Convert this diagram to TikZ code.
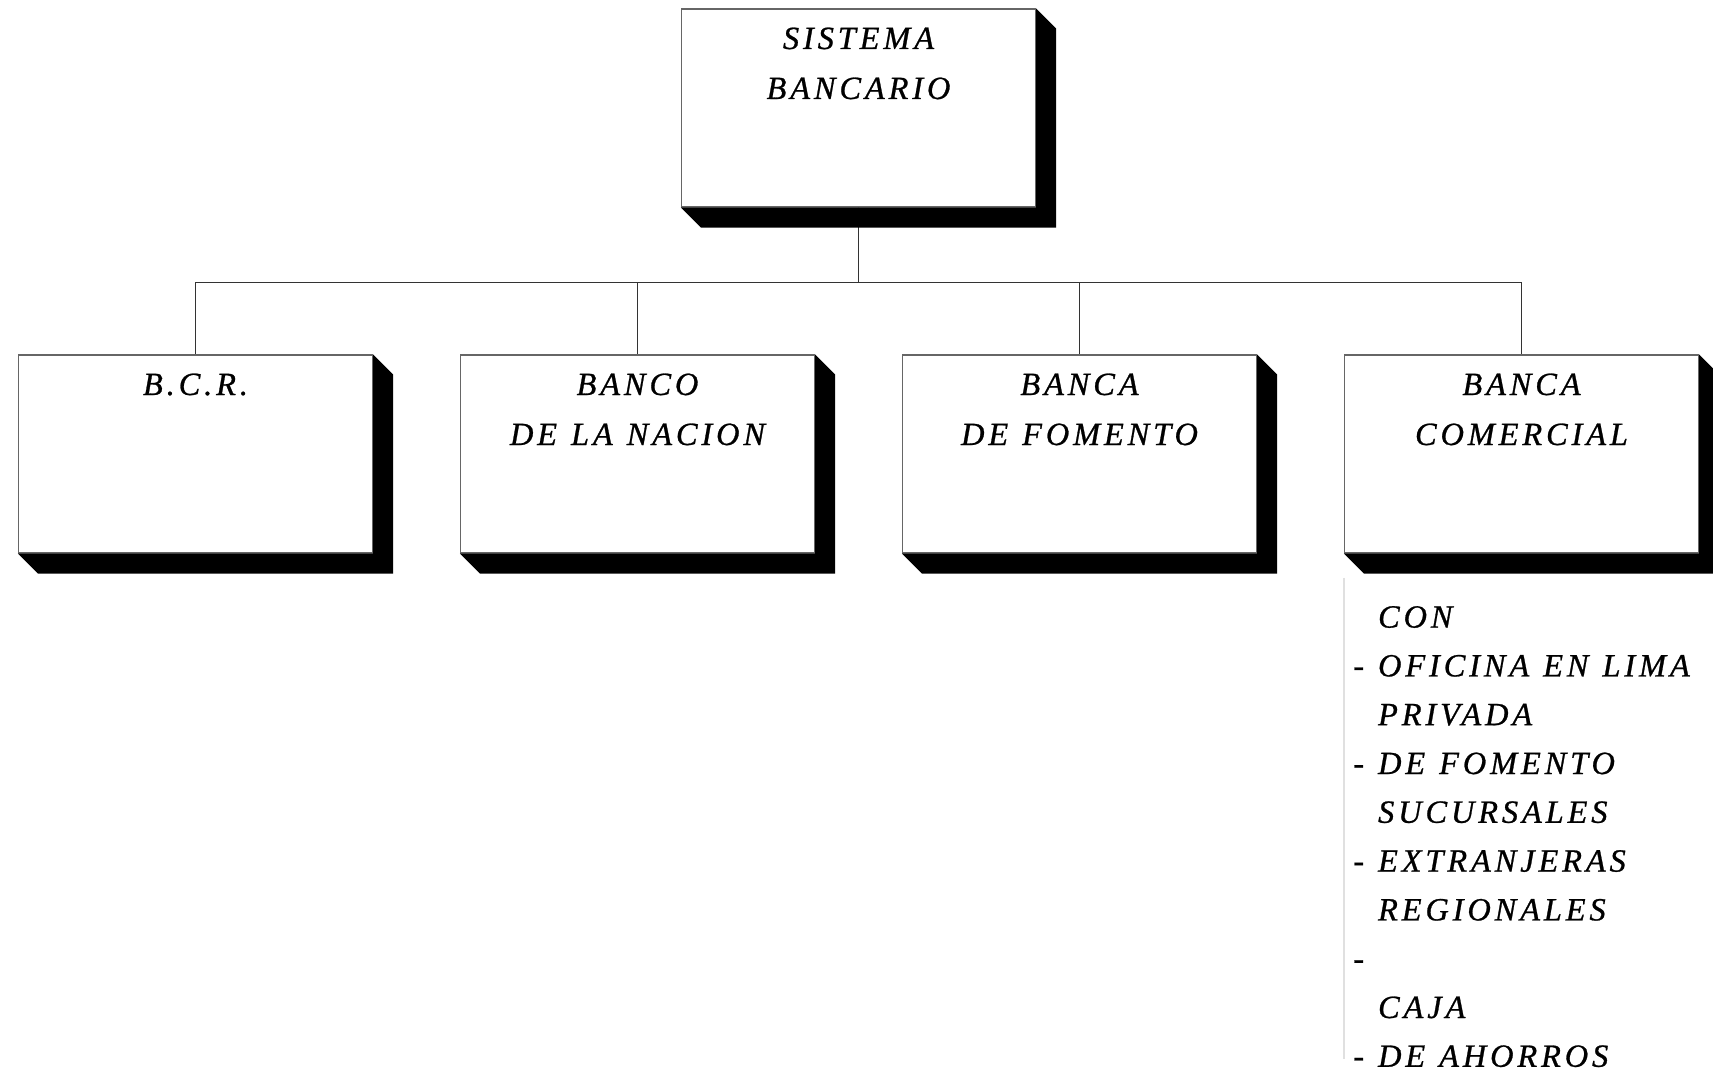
\documentclass[tikz,border=0pt]{standalone}
\usepackage{fontspec}
\newfontfamily\orgfont[LetterSpace=12,FakeBold=0.8]{Liberation Serif}
\newcommand\orgtext[1]{\orgfont\itshape\fontsize{16.2pt}{#1}\selectfont}
\begin{document}
\begin{tikzpicture}[level distance=173pt,sibling distance=221pt,
    edge from parent/.style={draw,black!80,line width=0.7pt},
    edge from parent path={(\tikzparentnode.south) -- ++(0,-37.5pt) -| (\tikzchildnode.north)}]
  \useasboundingbox (0,0) rectangle (856.5pt,-537.5pt);
  \begin{scope}[every node/.style={rectangle,draw=black!60,line width=0.6pt,fill=white,
      minimum width=177pt,minimum height=99pt,inner sep=0pt,text width=177pt,align=center,
      text height=20pt,text depth=79pt,font=\orgtext{25pt},
      execute at begin node={\spaceskip=7pt\relax}}]
    \node (sistema) at (429.25pt,-54pt) {SISTEMA\\BANCARIO}
      child { node (bcr) {B.C.R.} }
      child { node (nacion) {BANCO\\DE LA NACION} }
      child { node (fomento) {BANCA\\DE FOMENTO} }
      child { node (comercial) {BANCA\\COMERCIAL} };
  \end{scope}
  % shadows
  \foreach \n in {sistema,bcr,nacion,fomento,comercial}
    \fill (\n.north east) -- ++(10pt,-10pt) -- ([shift={(10pt,-10pt)}]\n.south east)
      -- ([shift={(10pt,-10pt)}]\n.south west) -- (\n.south west) -- (\n.south east) -- cycle;
  \coordinate (railend) at ([yshift=-252.5pt]comercial.south west);
  \draw[black!12,line width=0.8pt] ([yshift=-12pt]comercial.south west) -- (railend);
  \node[font=\orgtext{24.4pt},text width=190pt,align=left,inner sep=0pt,
      execute at begin node={\spaceskip=7pt\relax},
      anchor=base west] (comlist) at ([xshift=4.5pt,yshift=-37pt]comercial.south west)
    {\hphantom{- }CON\\
     - OFICINA EN LIMA\\
     \hphantom{- }PRIVADA\\
     - DE FOMENTO\\
     \hphantom{- }SUCURSALES\\
     - EXTRANJERAS\\
     \hphantom{- }REGIONALES\\
     -\\
     \hphantom{- }CAJA\\
     - DE AHORROS};
\end{tikzpicture}
\end{document}
